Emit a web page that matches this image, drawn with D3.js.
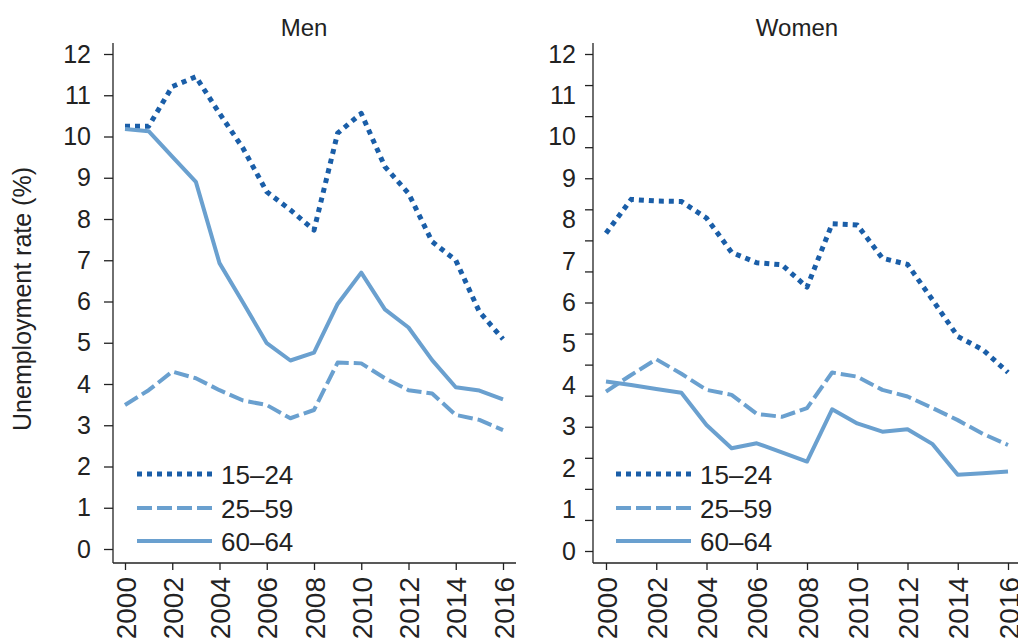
<!DOCTYPE html>
<html>
<head>
<meta charset="utf-8">
<script src="https://cdn.jsdelivr.net/npm/d3@7"></script>
<style>
  body { margin: 0; background: #fff; }
  svg { display: block; font-family: "Liberation Sans", Arial, sans-serif; }
  text { fill: #222; }
</style>
</head>
<body>
<div id="chart"></div>
<script>
// Données
const years = [2000, 2001, 2002, 2003, 2004, 2005, 2006, 2007, 2008, 2009, 2010, 2011, 2012, 2013, 2014, 2015, 2016];
const xTicks = [2000, 2002, 2004, 2006, 2008, 2010, 2012, 2014, 2016];
const yTicks = [0, 1, 2, 3, 4, 5, 6, 7, 8, 9, 10, 11, 12];
const womenTickMarks = [0, 0.75, 1.5, 2.25, 3, 3.75, 4.5, 5.25, 6, 6.75, 7.5, 8.25, 9, 9.75, 10.5, 11.25, 12];
const ageGroups = ["15–24", "25–59", "60–64"];

const men1524 = [10.25, 10.25, 11.21, 11.45, 10.56, 9.71, 8.66, 8.22, 7.73, 10.08, 10.56, 9.27, 8.62, 7.45, 7.0, 5.75, 5.09];
const men2559 = [3.49, 3.85, 4.30, 4.14, 3.85, 3.60, 3.49, 3.17, 3.37, 4.52, 4.50, 4.14, 3.85, 3.77, 3.25, 3.13, 2.88];
const men6064 = [10.18, 10.13, 9.51, 8.90, 6.93, 5.97, 4.99, 4.57, 4.76, 5.94, 6.70, 5.81, 5.37, 4.58, 3.92, 3.84, 3.63];

const women1524 = [7.67, 8.49, 8.45, 8.44, 8.04, 7.21, 6.96, 6.91, 6.37, 7.90, 7.87, 7.07, 6.92, 6.06, 5.18, 4.86, 4.31];
const women2559 = [3.85, 4.25, 4.63, 4.28, 3.89, 3.77, 3.31, 3.24, 3.45, 4.31, 4.21, 3.89, 3.73, 3.45, 3.16, 2.83, 2.56];
const women6064 = [4.09, 4.01, 3.91, 3.82, 3.04, 2.48, 2.60, 2.38, 2.16, 3.42, 3.08, 2.88, 2.94, 2.58, 1.84, 1.88, 1.92];

const width = 1018, height = 641;
const darkBlue = "#1a5ea8", lightBlue = "#6aa0cf";

// style de chaque série : couleur, épaisseur, pointillés
const styles = [
    { color: darkBlue, width: 5, dash: "5,5" },
    { color: lightBlue, width: 4, dash: "15,5" },
    { color: lightBlue, width: 4, dash: null }
];

const svg = d3.select("#chart")
    .append("svg")
    .attr("width", width)
    .attr("height", height);

function drawPanel(p) {
    const x = d3.scaleLinear().domain([2000, 2016]).range(p.xRange);
    const y = d3.scaleLinear().domain([0, 12]).range(p.yRange);
    const g = svg.append("g");

    // Titre du panneau
    g.append("text")
        .attr("x", (p.xRange[0] + p.xRange[1]) / 2 - 10)
        .attr("y", 36)
        .attr("text-anchor", "middle")
        .style("font-size", "24px")
        .text(p.title);

    // Axe Y
    const yAxisG = g.append("g").attr("class", "axis").attr("transform", `translate(${p.axisX},0)`);
    if (p.tickMarks) {
        yAxisG.append("g")
            .call(d3.axisLeft(y).tickValues(p.tickMarks).tickSize(8).tickFormat(""));
        yAxisG.append("g")
            .call(d3.axisLeft(y).tickValues(yTicks).tickSize(0).tickPadding(p.labelPad));
    } else {
        yAxisG.append("g")
            .call(d3.axisLeft(y).tickValues(yTicks).tickSize(9).tickPadding(p.labelPad));
    }
    yAxisG.selectAll(".domain").remove();
    yAxisG.selectAll("text").style("font-size", "25px").attr("fill", "#222");
    yAxisG.append("line")
        .attr("x1", 0).attr("x2", 0)
        .attr("y1", 43).attr("y2", 563);

    // Axe X
    const xAxisG = g.append("g")
        .attr("class", "axis")
        .attr("transform", "translate(0,563)")
        .call(d3.axisBottom(x).tickValues(xTicks).tickSize(7).tickFormat(d3.format("d")));
    xAxisG.select(".domain").remove();
    xAxisG.append("line")
        .attr("x1", p.axisX).attr("x2", p.xEnd)
        .attr("y1", 0).attr("y2", 0);
    xAxisG.selectAll("text")
        .attr("transform", "rotate(-90)")
        .attr("x", -14)
        .attr("y", 0)
        .attr("dy", "0.36em")
        .attr("text-anchor", "end")
        .attr("fill", "#222")
        .style("font-size", "28px");

    g.selectAll(".axis line").attr("stroke", "#222").attr("stroke-width", 1.3);

    // Courbes
    const line = d3.line()
        .x((d, i) => x(years[i]))
        .y(d => y(d));

    g.selectAll(".serie")
        .data(p.series)
        .join("path")
        .attr("class", "serie")
        .attr("d", line)
        .attr("fill", "none")
        .attr("stroke", (d, i) => styles[i].color)
        .attr("stroke-width", (d, i) => styles[i].width)
        .attr("stroke-dasharray", (d, i) => styles[i].dash)
        .attr("stroke-linejoin", "round");

    // Légende
    const legendY = [474, 508, 541];
    const leg = g.selectAll(".legend")
        .data(ageGroups)
        .join("g")
        .attr("class", "legend")
        .attr("transform", (d, i) => `translate(${p.legendX},${legendY[i]})`);
    leg.append("line")
        .attr("x1", 0).attr("x2", 75)
        .attr("y1", 0).attr("y2", 0)
        .attr("stroke", (d, i) => styles[i].color)
        .attr("stroke-width", (d, i) => styles[i].width)
        .attr("stroke-dasharray", (d, i) => styles[i].dash);
    leg.append("text")
        .attr("x", 84)
        .attr("y", 10)
        .style("font-size", "26px")
        .text(d => d);
}

drawPanel({
    title: "Men",
    xRange: [125, 503], yRange: [549, 54],
    axisX: 113, xEnd: 516, labelPad: 13,
    legendX: 137,
    series: [men1524, men2559, men6064]
});

drawPanel({
    title: "Women",
    xRange: [606, 1008], yRange: [551, 54],
    axisX: 593, xEnd: 1018, labelPad: 17,
    tickMarks: womenTickMarks,
    legendX: 616,
    series: [women1524, women2559, women6064]
});

// Titre de l'axe Y
svg.append("text")
    .attr("transform", "translate(31,299) rotate(-90)")
    .attr("text-anchor", "middle")
    .style("font-size", "25px")
    .text("Unemployment rate (%)");
</script>
</body>
</html>
